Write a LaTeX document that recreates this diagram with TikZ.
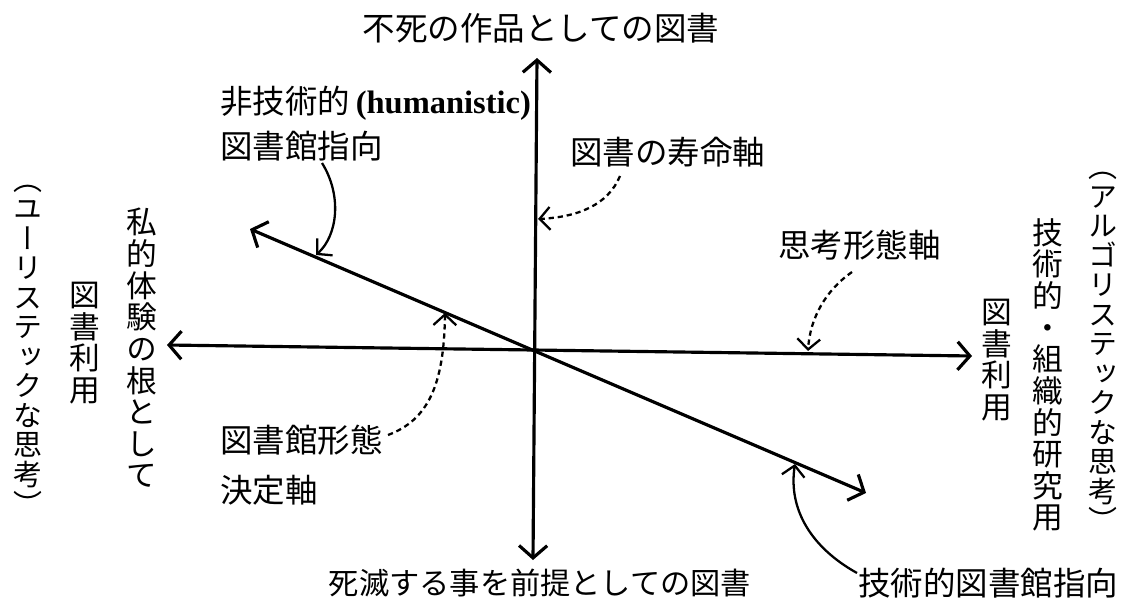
\documentclass[tikz,border=0pt]{standalone}
\usepackage{fontspec}
\setmainfont{Noto Sans CJK JP}
\newfontfamily\jp{Noto Sans CJK JP}
\newfontfamily\vjp[RawFeature=+vert]{Noto Sans CJK JP}
\newfontfamily\latinserif{Liberation Serif}
\usetikzlibrary{arrows.meta}
\begin{document}
\begin{tikzpicture}[x=0.02cm,y=-0.02cm,
  lbl/.style={inner sep=0pt, font=\jp\fontsize{18.5}{22}\selectfont},
  vcol/.style={inner sep=0pt, align=center, font=\vjp\fontsize{17.5}{18}\selectfont},
  pcol/.style={inner sep=0pt, align=center, font=\vjp\fontsize{16.5}{16.8}\selectfont},
  axisline/.style={line width=1.8pt, {Straight Barb[length=7pt,width=16pt]}-{Straight Barb[length=7pt,width=16pt]}},
  callsolid/.style={line width=1.3pt, -{Straight Barb[length=6pt,width=13pt]}},
  calldot/.style={line width=1.3pt, dash pattern=on 3pt off 2.2pt, -{Straight Barb[length=6pt,width=13pt]}}
]
\useasboundingbox (0,0) rectangle (1137,605);

% axes end points
\coordinate (vT) at (537,58);
\coordinate (vB) at (533,560);
\coordinate (hL) at (167,345);
\coordinate (hR) at (972,356);
\coordinate (dL) at (250,229);
\coordinate (dR) at (866,493);

\draw[axisline] (vB) -- (vT);
\draw[axisline] (hL) -- (hR);
\draw[axisline] (dL) -- (dR);

% horizontal labels
\node[lbl] (top) at (541,28) {不死の作品としての図書};
\node[lbl, font=\jp\fontsize{17.2}{20}\selectfont] (bottom) at (540,583) {死滅する事を前提としての図書};
\node[lbl, anchor=west] (hum1) at (220,103) {非技術的{\latinserif\bfseries\,(humanistic)}};
\node[lbl, anchor=west] (hum2) at (220,146) {図書館指向};
\node[lbl, anchor=west] (jumyo) at (570,152) {図書の寿命軸};
\node[lbl, anchor=west] (shiko) at (778,245) {思考形態軸};
\node[lbl, anchor=west] (keitai1) at (220,440) {図書館形態};
\node[lbl, anchor=west] (keitai2) at (220,490) {決定軸};
\node[lbl, anchor=west] (gijutsu) at (858,583) {技術的図書館指向};

% vertical labels, left
\node[pcol] (lparen) at (28,350) {（\\ユ\\ー\\リ\\ス\\テ\\ッ\\ク\\な\\思\\考\\）};
\node[vcol] (lriyo) at (85,343) {図\\書\\利\\用};
\node[vcol] (lshiteki) at (142,348) {私\\的\\体\\験\\の\\根\\と\\し\\て};

% vertical labels, right
\node[pcol] (rparen) at (1103,352) {（\\ア\\ル\\ゴ\\リ\\ス\\テ\\ッ\\ク\\な\\思\\考\\）};
\node[vcol] (rgijutsu) at (1048,375) {技\\術\\的\\・\\組\\織\\的\\研\\究\\用};
\node[vcol] (rriyo) at (997,360) {図\\書\\利\\用};

% callout coordinates
\coordinate (jS) at (620,176);
\coordinate (jE) at (538,219);
\coordinate (sS) at (852,272);
\coordinate (sE) at (808,351);
\coordinate (kS) at (388,435);
\coordinate (kE) at (445,313);
\coordinate (hS) at (322,163);
\coordinate (hE) at (316,255);
\coordinate (gS) at (857,573);
\coordinate (gE) at (795,464);

\draw[calldot] (jS) .. controls (608,205) and (578,217) .. (jE);
\draw[calldot] (sS) .. controls (826,290) and (810,318) .. (sE);
\draw[calldot] (kS) .. controls (428,420) and (444,385) .. (kE);
\draw[callsolid] (hS) .. controls (342,195) and (338,235) .. (hE);
\draw[callsolid] (gS) .. controls (812,548) and (788,510) .. (gE);
\end{tikzpicture}
\end{document}
